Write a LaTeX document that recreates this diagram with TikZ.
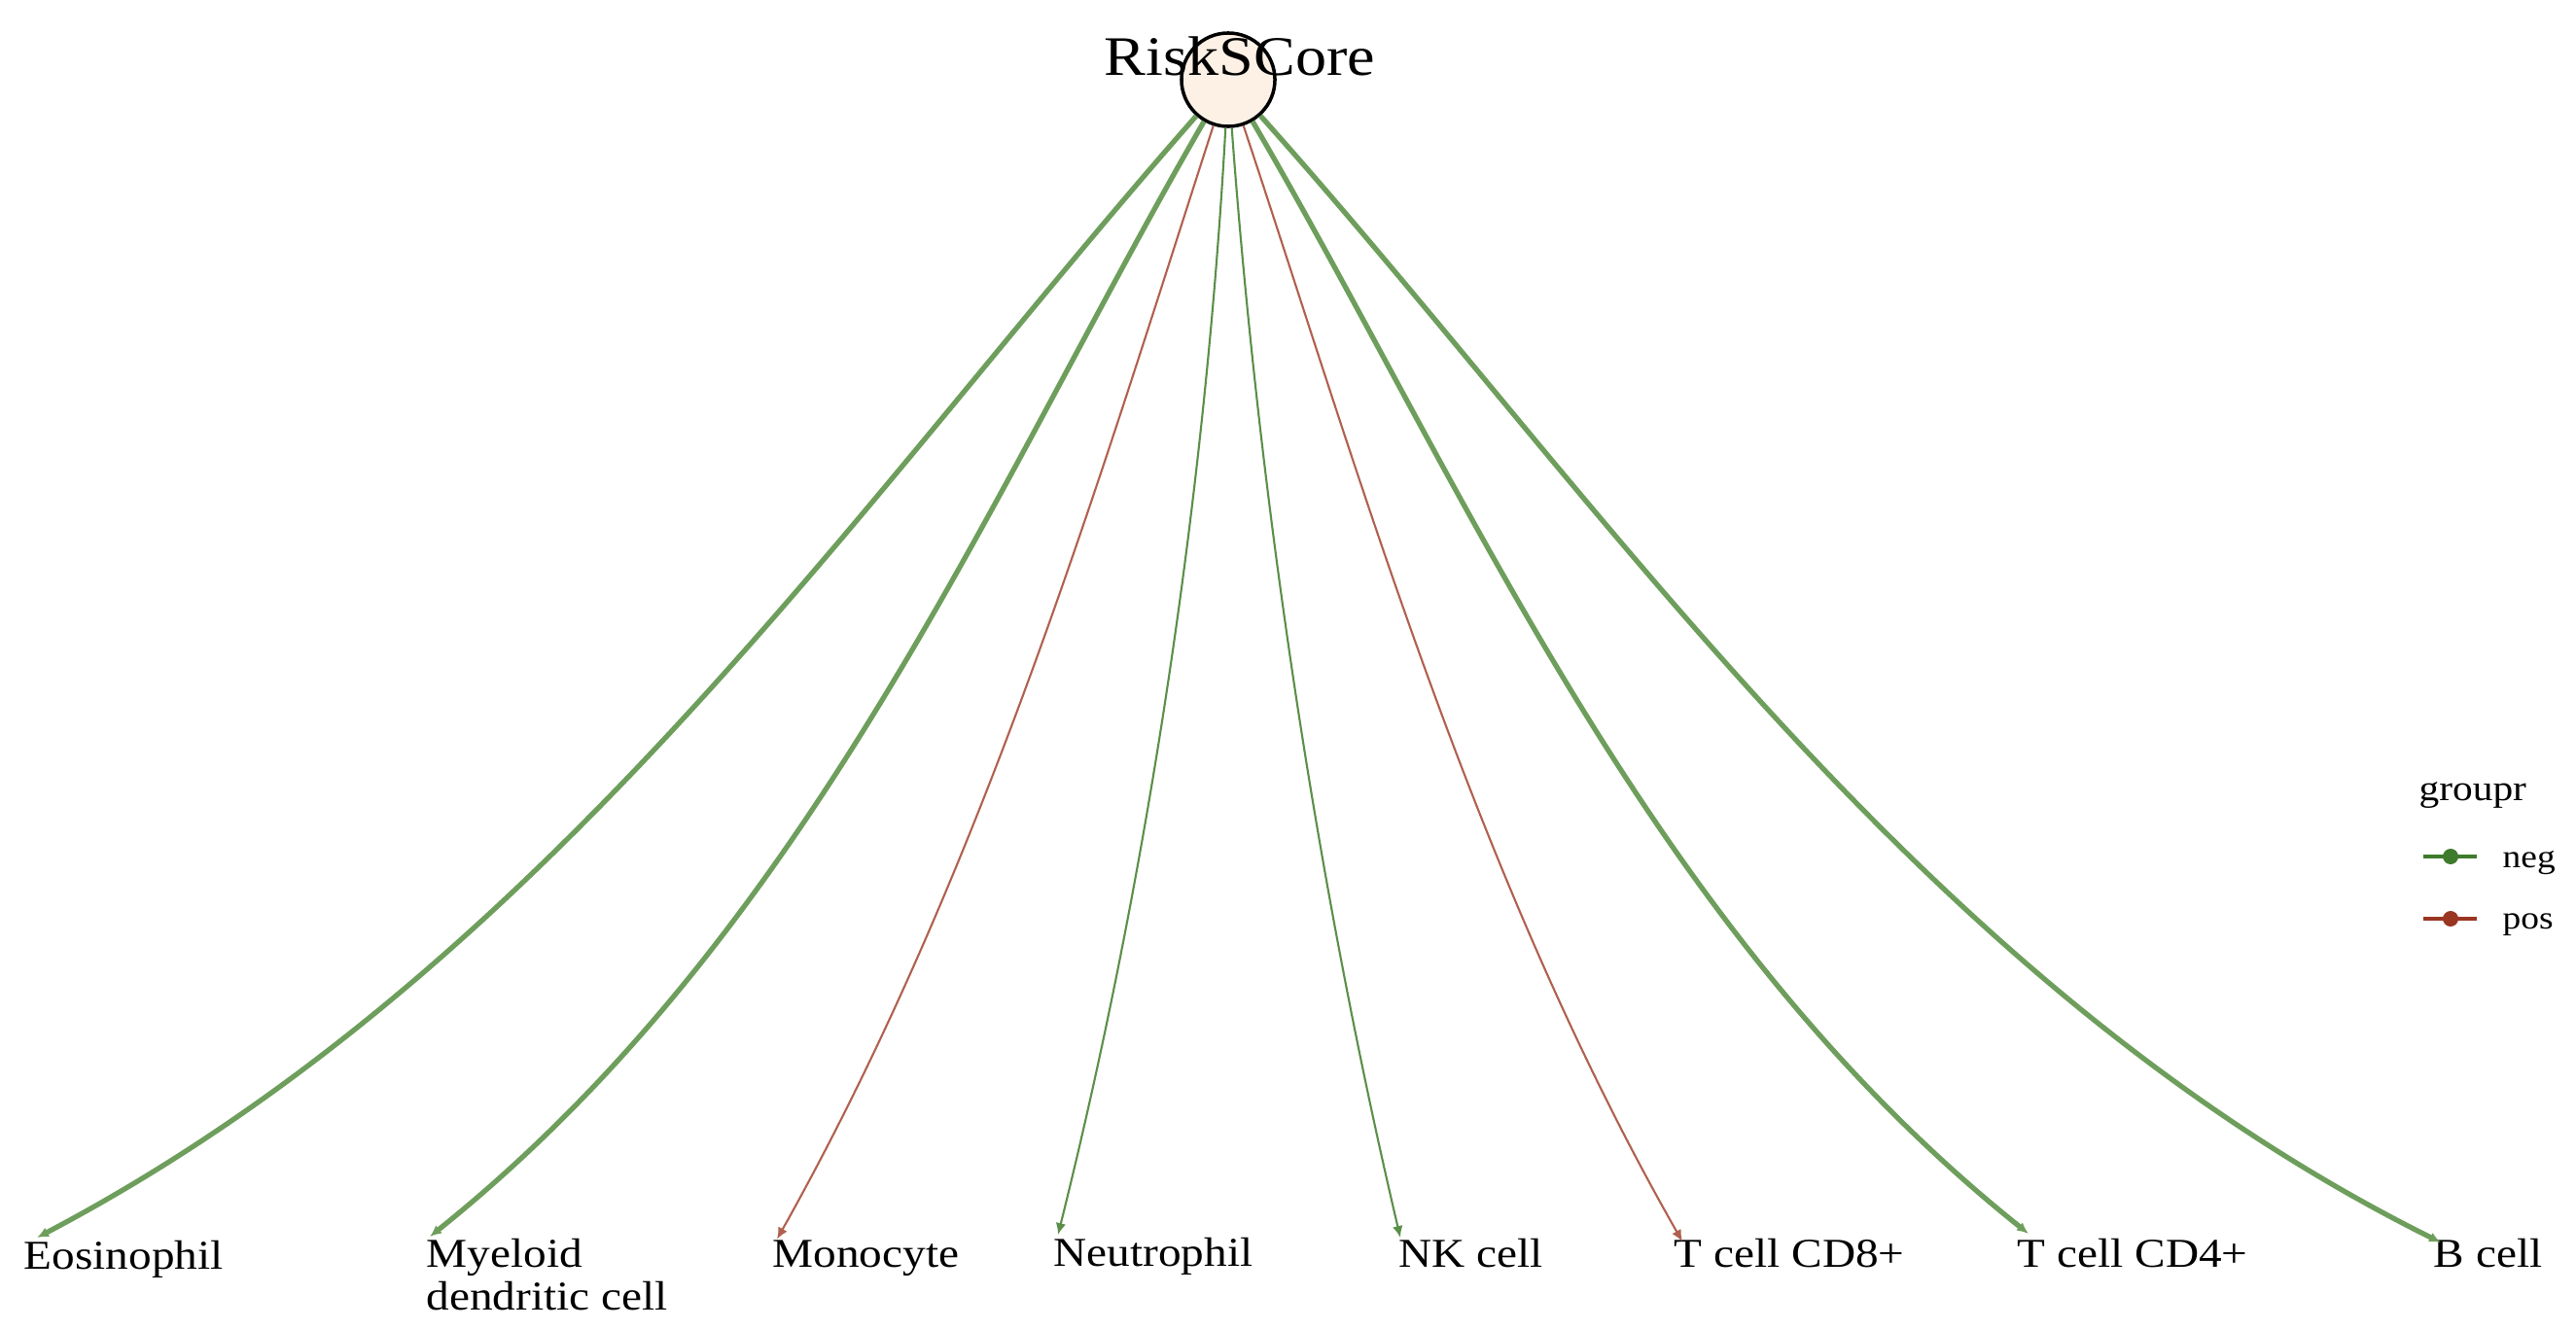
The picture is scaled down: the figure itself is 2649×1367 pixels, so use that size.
\documentclass[tikz,border=0pt]{standalone}
\usepackage{fontspec}
\setmainfont[FakeStretch=1.12]{Liberation Serif}
\usetikzlibrary{arrows.meta,calc}
\definecolor{negc}{HTML}{3E7B2C}
\definecolor{posc}{HTML}{9A3522}
\definecolor{negedge}{HTML}{6E9E5C}
\definecolor{negthin}{HTML}{5A8F48}
\definecolor{posedge}{HTML}{B0604E}
\definecolor{nodefill}{HTML}{FDF1E6}
\begin{document}
\begin{tikzpicture}[x=0.01cm,y=-0.01cm,
  lab/.style={anchor=base west, inner sep=0pt, font=\fontsize{12}{12.5}\selectfont},
  labml/.style={anchor=north west, inner sep=0pt, align=left, font=\fontsize{12}{12.5}\selectfont},
  tip/.style={-{Latex[length=3.4pt,width=3pt]}},
  thickneg/.style={draw=negedge, line width=1.5pt, tip},
  thinneg/.style={draw=negthin, line width=0.6pt, tip},
  thinpos/.style={draw=posedge, line width=0.6pt, tip},
  legtxt/.style={anchor=base west, inner sep=0pt, font=\fontsize{9.5}{11}\selectfont},
  legdot/.style={circle, inner sep=0pt, minimum size=0.16cm},
]
\useasboundingbox (0,0) rectangle (2649,1367);

% central node
\node[circle, draw=black, line width=1pt, fill=nodefill, minimum size=0.96cm, inner sep=0pt] (rs) at (1263,82) {};

% target labels
\node[lab] (eos) at (24,1305) {Eosinophil};
\node[labml] (mye) at (438,1274) {Myeloid\\dendritic cell};
\node[lab] (mon) at (794,1303) {Monocyte};
\node[lab] (neu) at (1083,1302) {Neutrophil};
\node[lab] (nkc) at (1438,1303) {NK cell};
\node[lab] (cd8) at (1721,1303) {T cell CD8+};
\node[lab] (cd4) at (2074,1303) {T cell CD4+};
\node[lab] (bce) at (2502,1303) {B cell};

% edges
\draw[thickneg] (rs) .. controls (885.6,510.3) and (564,996.1) .. ($(eos.north west)+(14,-2)$);
\draw[thickneg] (rs) .. controls (1021,499.6) and (835.6,956.4) .. ($(mye.north west)+(4,-2)$);
\draw[thinpos] (rs) .. controls (1131.6,488.8) and (1009.6,899.1) .. ($(mon.north west)+(5,0)$);
\draw[thinneg] (rs) .. controls (1240.9,483.2) and (1185.3,879.5) .. ($(neu.north west)+(5,-2)$);
\draw[thinneg] (rs) .. controls (1292.6,484.1) and (1348.1,882.3) .. ($(nkc.north west)+(2,0)$);
\draw[thinpos] (rs) .. controls (1398.2,489) and (1516.5,902.5) .. ($(cd8.north west)+(9,4)$);
\draw[thickneg] (rs) .. controls (1506.8,499.4) and (1693.9,956.1) .. ($(cd4.north west)+(12,-4)$);
\draw[thickneg] (rs) .. controls (1648.9,513.8) and (1972.5,1010.7) .. ($(bce.north west)+(8,5)$);

% central label
\node[anchor=base, inner sep=0pt, font=\fontsize{16.3}{18}\selectfont] (rst) at (1275,78) {RiskSCore};

% legend
\node[anchor=base west, inner sep=0pt, font=\fontsize{10.5}{12}\selectfont] (lgt) at (2487,823) {groupr};
\coordinate (na) at (2492,881);
\coordinate (nb) at (2547,881);
\draw[negc, line width=1pt] (na) -- (nb);
\node[legdot, fill=negc] (nd) at (2520,881) {};
\node[legtxt] (negt) at (2573,892) {neg};
\coordinate (pa) at (2492,945);
\coordinate (pb) at (2547,945);
\draw[posc, line width=1pt] (pa) -- (pb);
\node[legdot, fill=posc] (pd) at (2520,945) {};
\node[legtxt] (post) at (2573,955) {pos};
\end{tikzpicture}
\end{document}
